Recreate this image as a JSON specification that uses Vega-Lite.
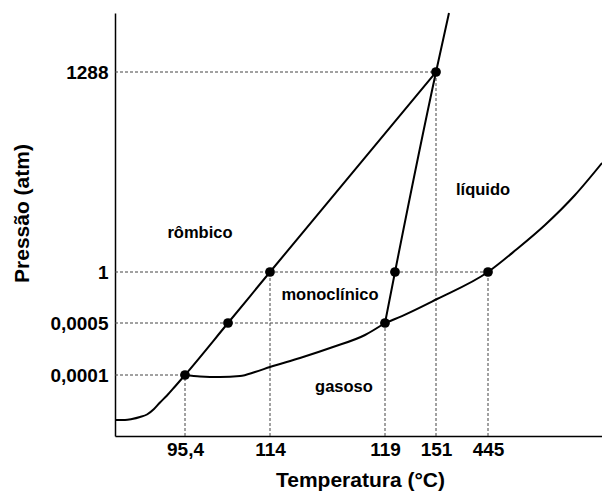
{
  "$schema": "https://vega.github.io/schema/vega-lite/v6.json",
  "width": 487,
  "height": 423,
  "autosize": {"type": "none"},
  "padding": {"left": 115, "top": 13, "right": 0, "bottom": 56},
  "background": "white",
  "config": {
    "view": {"stroke": null},
    "font": "Liberation Sans",
    "axis": {
      "grid": false,
      "ticks": false,
      "domainColor": "black",
      "domainWidth": 1.5,
      "labelFont": "Liberation Sans",
      "labelFontWeight": "bold",
      "labelFontSize": 19,
      "labelColor": "black",
      "titleFont": "Liberation Sans",
      "titleFontWeight": "bold",
      "titleFontSize": 21,
      "titleColor": "black"
    }
  },
  "datasets": {
    "guides": [
      {"x": 0, "x2": 321, "y": 364, "y2": 364},
      {"x": 0, "x2": 373, "y": 164, "y2": 164},
      {"x": 0, "x2": 270, "y": 113, "y2": 113},
      {"x": 0, "x2": 70, "y": 61, "y2": 61},
      {"x": 70, "x2": 70, "y": 0, "y2": 61},
      {"x": 155, "x2": 155, "y": 0, "y2": 164},
      {"x": 270, "x2": 270, "y": 0, "y2": 113},
      {"x": 321, "x2": 321, "y": 0, "y2": 364},
      {"x": 373, "x2": 373, "y": 0, "y2": 164}
    ],
    "curves": [
      {"s": "A", "x": 0, "y": 16},
      {"s": "A", "x": 10, "y": 16},
      {"s": "A", "x": 17, "y": 17},
      {"s": "A", "x": 25, "y": 19},
      {"s": "A", "x": 32, "y": 21.5},
      {"s": "A", "x": 39, "y": 27},
      {"s": "A", "x": 45, "y": 33.5},
      {"s": "A", "x": 52, "y": 40.5},
      {"s": "A", "x": 60, "y": 49.5},
      {"s": "A", "x": 70, "y": 61},
      {"s": "A", "x": 113, "y": 113},
      {"s": "A", "x": 155, "y": 164},
      {"s": "A", "x": 321, "y": 364},
      {"s": "B", "x": 70, "y": 61},
      {"s": "B", "x": 85, "y": 59.5},
      {"s": "B", "x": 105, "y": 59},
      {"s": "B", "x": 125, "y": 60},
      {"s": "B", "x": 140, "y": 64},
      {"s": "B", "x": 155, "y": 69},
      {"s": "B", "x": 185, "y": 78},
      {"s": "B", "x": 218, "y": 89},
      {"s": "B", "x": 250, "y": 101},
      {"s": "B", "x": 270, "y": 113},
      {"s": "C", "x": 270, "y": 113},
      {"s": "C", "x": 280, "y": 117},
      {"s": "C", "x": 322, "y": 137},
      {"s": "C", "x": 373, "y": 164},
      {"s": "C", "x": 402, "y": 187},
      {"s": "C", "x": 430, "y": 211},
      {"s": "C", "x": 460, "y": 241},
      {"s": "C", "x": 487, "y": 273},
      {"s": "D", "x": 270, "y": 113},
      {"s": "D", "x": 280, "y": 164},
      {"s": "D", "x": 321, "y": 364},
      {"s": "D", "x": 334, "y": 423}
    ],
    "points": [
      {"x": 70, "y": 61},
      {"x": 113, "y": 113},
      {"x": 155, "y": 164},
      {"x": 270, "y": 113},
      {"x": 280, "y": 164},
      {"x": 321, "y": 364},
      {"x": 373, "y": 164}
    ],
    "labels": [
      {"x": 85, "y": 203, "label": "rômbico"},
      {"x": 215, "y": 141, "label": "monoclínico"},
      {"x": 368, "y": 246, "label": "líquido"},
      {"x": 229, "y": 49, "label": "gasoso"}
    ]
  },
  "layer": [
    {
      "data": {"name": "guides"},
      "mark": {"type": "rule", "stroke": "#444", "strokeWidth": 1, "strokeDash": [3, 2]},
      "encoding": {
        "x": {
          "field": "x", "type": "quantitative",
          "scale": {"domain": [0, 487], "nice": false, "zero": false},
          "axis": {
            "title": "Temperatura (°C)",
            "values": [70, 155, 270, 321, 373],
            "labelExpr": "datum.value==70?'95,4':datum.value==155?'114':datum.value==270?'119':datum.value==321?'151':datum.value==373?'445':''",
            "labelPadding": 4,
            "titleX": 245,
            "titleY": 44,
            "titleBaseline": "middle",
            "titleAnchor": null
          }
        },
        "x2": {"field": "x2"},
        "y": {
          "field": "y", "type": "quantitative",
          "scale": {"domain": [0, 423], "nice": false, "zero": false},
          "axis": {
            "title": "Pressão (atm)",
            "values": [61, 113, 164, 364],
            "labelExpr": "datum.value==61?'0,0001':datum.value==113?'0,0005':datum.value==164?'1':datum.value==364?'1288':''",
            "labelPadding": 7,
            "titleX": -93,
            "titleY": 200,
            "titleAngle": -90,
            "titleAlign": "center",
            "titleBaseline": "middle"
          }
        },
        "y2": {"field": "y2"}
      }
    },
    {
      "mark": {"type": "rule", "stroke": "black", "strokeWidth": 1.5},
      "encoding": {"y": {"datum": 423, "type": "quantitative"}}
    },
    {
      "data": {"name": "curves"},
      "mark": {"type": "line", "interpolate": "monotone", "stroke": "black", "strokeWidth": 2},
      "encoding": {
        "x": {"field": "x", "type": "quantitative"},
        "y": {"field": "y", "type": "quantitative"},
        "detail": {"field": "s"}
      }
    },
    {
      "data": {"name": "points"},
      "mark": {"type": "circle", "size": 95, "color": "black", "opacity": 1},
      "encoding": {
        "x": {"field": "x", "type": "quantitative"},
        "y": {"field": "y", "type": "quantitative"}
      }
    },
    {
      "data": {"name": "labels"},
      "mark": {"type": "text", "font": "Liberation Sans", "fontWeight": "bold", "fontSize": 16.5, "color": "black", "align": "center", "baseline": "middle"},
      "encoding": {
        "x": {"field": "x", "type": "quantitative"},
        "y": {"field": "y", "type": "quantitative"},
        "text": {"field": "label"}
      }
    }
  ]
}
